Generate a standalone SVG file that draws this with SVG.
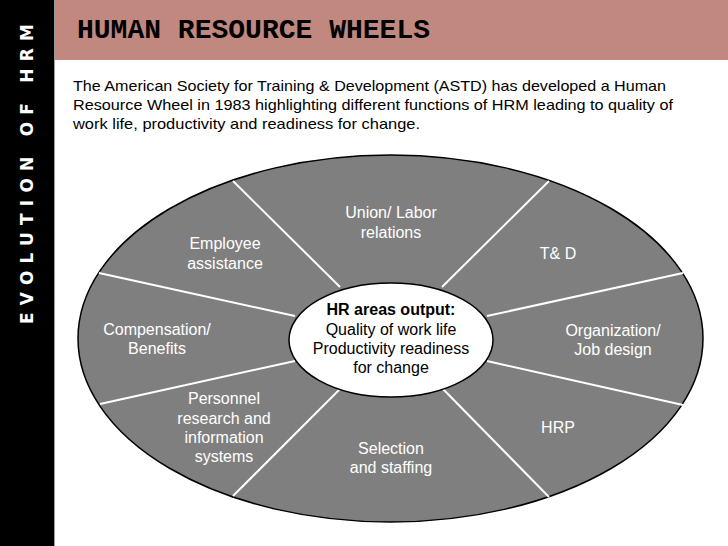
<svg xmlns="http://www.w3.org/2000/svg" width="728" height="546" viewBox="0 0 728 546">
<style>
.lbl{font-family:"Liberation Sans",Arial,sans-serif;font-size:16px;fill:#ffffff;text-anchor:middle}
.ctr{font-family:"Liberation Sans",Arial,sans-serif;font-size:16px;fill:#000000;text-anchor:middle}
.para{font-family:"Liberation Sans",Arial,sans-serif;font-size:15px;fill:#000000}
.div{stroke:#ffffff;stroke-width:2}
</style>
<rect x="0" y="0" width="728" height="546" fill="#ffffff"/>
<rect x="0" y="0" width="54" height="546" fill="#000000"/>
<line x1="54.5" y1="0" x2="54.5" y2="546" stroke="#9a9a9a" stroke-width="1"/>
<rect x="55" y="0" width="673" height="60" fill="#C1887F"/>
<text x="27" y="324" transform="rotate(-90 27 324)" font-family="'DejaVu Sans','Liberation Sans',sans-serif" font-weight="bold" font-size="17" fill="#ffffff" dy="6" textLength="300" lengthAdjust="spacing">EVOLUTION OF HRM</text>
<text x="77" y="38" font-family="'Liberation Mono','Courier New',monospace" font-weight="bold" font-size="28" fill="#000000" textLength="353" lengthAdjust="spacingAndGlyphs">HUMAN RESOURCE WHEELS</text>
<text class="para" x="73" y="91" textLength="593" lengthAdjust="spacingAndGlyphs">The American Society for Training &amp; Development (ASTD) has developed a Human</text>
<text class="para" x="73" y="110" textLength="600" lengthAdjust="spacingAndGlyphs">Resource Wheel in 1983 highlighting different functions of HRM leading to quality of</text>
<text class="para" x="73" y="129" textLength="347" lengthAdjust="spacingAndGlyphs">work life, productivity and readiness for change.</text>
<g id="wheel">
<ellipse cx="390.5" cy="338.5" rx="312.5" ry="183.5" fill="#7f7f7f" stroke="#000000" stroke-width="1.5"/>
</g>
<g id="connectors">
<line class="div" x1="233" y1="181" x2="340" y2="287"/>
<line class="div" x1="99" y1="273" x2="295" y2="316"/>
<line class="div" x1="100" y1="404" x2="295" y2="361"/>
<line class="div" x1="233" y1="496" x2="340" y2="389"/>
<line class="div" x1="549" y1="181" x2="442" y2="287"/>
<line class="div" x1="683" y1="273" x2="487" y2="316"/>
<line class="div" x1="683" y1="405" x2="487" y2="361"/>
<line class="div" x1="549" y1="497" x2="443" y2="389"/>
</g>
<g id="center">
<ellipse cx="391" cy="340" rx="102" ry="57" fill="#ffffff" stroke="#000000" stroke-width="1.5"/>
<text class="ctr" x="391" y="315" font-weight="bold">HR areas output:</text>
<text class="ctr" x="391" y="335">Quality of work life</text>
<text class="ctr" x="391" y="354">Productivity readiness</text>
<text class="ctr" x="391" y="373">for change</text>
</g>
<g id="union"><text class="lbl" x="391" y="218">Union/ Labor</text><text class="lbl" x="391" y="238">relations</text></g>
<g id="employee"><text class="lbl" x="225" y="249">Employee</text><text class="lbl" x="225" y="269">assistance</text></g>
<g id="td"><text class="lbl" x="558" y="259">T&amp; D</text></g>
<g id="compensation"><text class="lbl" x="157" y="335">Compensation/</text><text class="lbl" x="157" y="354">Benefits</text></g>
<g id="organization"><text class="lbl" x="613" y="336">Organization/</text><text class="lbl" x="613" y="355">Job design</text></g>
<g id="personnel"><text class="lbl" x="224" y="404">Personnel</text><text class="lbl" x="224" y="424">research and</text><text class="lbl" x="224" y="443">information</text><text class="lbl" x="224" y="462">systems</text></g>
<g id="selection"><text class="lbl" x="391" y="454">Selection</text><text class="lbl" x="391" y="473">and staffing</text></g>
<g id="hrp"><text class="lbl" x="558" y="433">HRP</text></g>
</svg>
